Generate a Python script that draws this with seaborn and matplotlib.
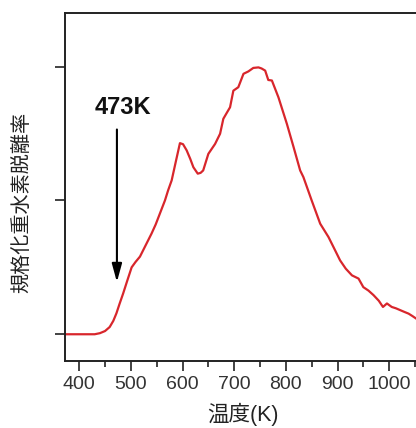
import matplotlib
matplotlib.use("Agg")
import matplotlib.pyplot as plt
import seaborn as sns
import pandas as pd

# Desorption curve: temperature (K) vs normalized D2 desorption rate
temperature = [372, 390, 410, 430, 440, 450, 459, 466, 472, 478, 485, 493, 501.5, 509, 517.6,
               528, 540, 548, 556, 566, 572, 579, 587, 595, 601, 608, 615, 621, 629.5,
               635, 640, 650, 663, 672.7, 679, 685, 692, 698.4, 708, 718, 727.5,
               737, 747, 753, 760, 766, 773, 785.7, 802, 815, 827.7, 834, 850,
               866.5, 882.6, 895.5, 905, 916, 928, 940.7, 950, 960, 969.8, 980, 988,
               995.7, 1005, 1013, 1021.5, 1030, 1037.6, 1045, 1055]
rate = [0.0, 0.0, 0.0, 0.0, 0.004, 0.012, 0.027, 0.05, 0.078, 0.113, 0.152, 0.2, 0.25, 0.27, 0.29,
        0.33, 0.376, 0.41, 0.45, 0.5, 0.537, 0.575, 0.645, 0.714, 0.71, 0.687, 0.655, 0.624, 0.6,
        0.603, 0.612, 0.674, 0.711, 0.749, 0.805, 0.825, 0.848, 0.91, 0.923, 0.973, 0.982,
        0.995, 0.997, 0.993, 0.985, 0.95, 0.948, 0.885, 0.786, 0.699, 0.612, 0.587, 0.5,
        0.413, 0.363, 0.313, 0.276, 0.245, 0.22, 0.208, 0.176, 0.163, 0.146, 0.125, 0.102,
        0.115, 0.102, 0.097, 0.09, 0.083, 0.077, 0.068, 0.055]

xticks = [400, 500, 600, 700, 800, 900, 1000]
yticks = [0.0, 0.5, 1.0]
onset_temp = 473
onset_label = "473K"

df = pd.DataFrame({"temperature": temperature, "rate": rate})

sns.set_style("ticks")
plt.rcParams["font.family"] = ["Liberation Sans", "Noto Sans CJK JP", "DejaVu Sans"]

fig = plt.figure(figsize=(4.16, 4.28), dpi=100)
ax = fig.add_axes([0.156, 0.1565, 0.854, 0.813])

sns.lineplot(data=df, x="temperature", y="rate", ax=ax, color="#d8262c", linewidth=1.6)

ax.set_xlim(372.3, 1060)
ax.set_ylim(-0.1, 1.2)
ax.set_xticks(xticks)
ax.set_xticks([450, 550, 650, 750, 850, 950, 1050], minor=True)
ax.set_xticklabels([str(t) for t in xticks], fontsize=14, color="#333333")
ax.set_yticks(yticks)
ax.set_yticklabels([])

ax.tick_params(axis="both", which="major", direction="out", length=7, width=1.2,
               color="#222222", pad=4)
ax.tick_params(axis="x", which="minor", direction="out", length=4, width=1.2, color="#222222")

for side in ["left", "bottom", "top"]:
    ax.spines[side].set_linewidth(1.4)
    ax.spines[side].set_color("#222222")
ax.spines["right"].set_visible(False)

ax.set_xlabel("温度(K)", fontsize=15.5, color="#222222", labelpad=7)
ax.set_ylabel("規格化重水素脱離率", fontsize=14.5, color="#222222", va="center")
ax.yaxis.set_label_coords(-0.121, 0.455)

# Onset marker
ax.annotate("", xy=(onset_temp, 0.195), xytext=(onset_temp, 0.765),
            arrowprops=dict(arrowstyle="-|>,head_length=1.1,head_width=0.3",
                            color="black", lw=1.5, shrinkA=0, shrinkB=0))
ax.text(485, 0.848, onset_label, fontsize=17, fontweight="bold",
        ha="center", va="center", color="#111111")

fig.savefig("out.png", dpi=100)
